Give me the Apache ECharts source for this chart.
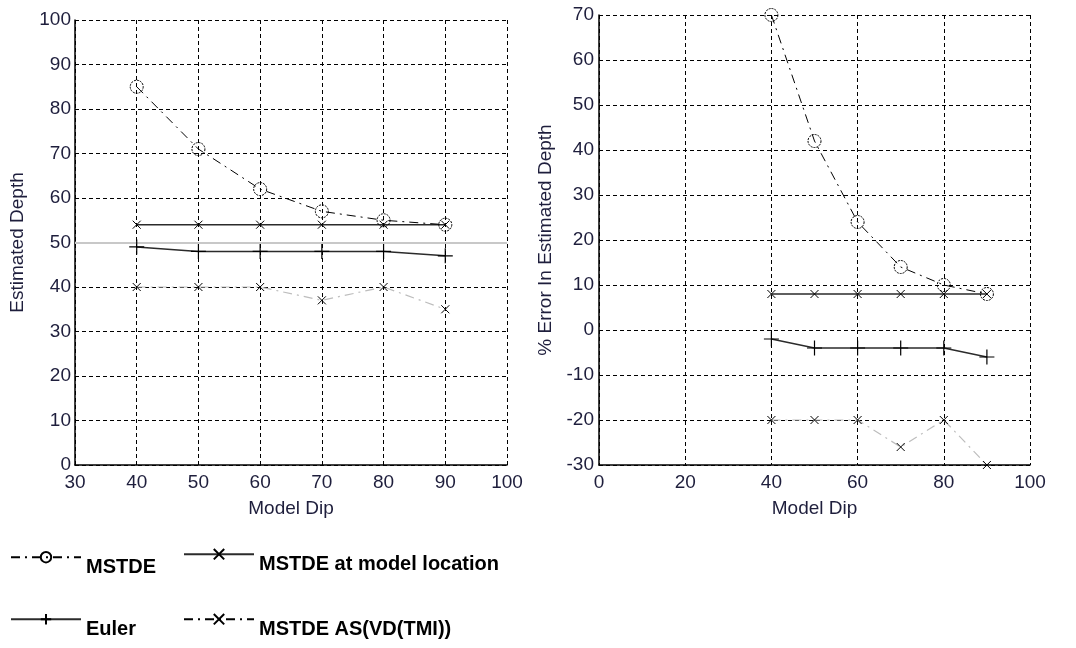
<!DOCTYPE html>
<html>
<head>
<meta charset="utf-8">
<script src="https://cdn.jsdelivr.net/npm/echarts@6/dist/echarts.min.js"></script>
<style>
  html, body { margin: 0; padding: 0; background: #fff; }
  #chart { width: 1076px; height: 648px; }
</style>
</head>
<body>
<div id="chart"></div>
<script>
// Model dip angles (degrees)
const dips = [40, 50, 60, 70, 80, 90];

// Estimated depth for each method
const depthMSTDE = [85, 71, 62, 57, 55, 54];
const depthAtLocation = [54, 54, 54, 54, 54, 54];
const depthEuler = [49, 48, 48, 48, 48, 47];
const depthAS = [40, 40, 40, 37, 40, 35];

// Percentage error in estimated depth
const errMSTDE = [70, 42, 24, 14, 10, 8];
const errAtLocation = [8, 8, 8, 8, 8, 8];
const errEuler = [-2, -4, -4, -4, -4, -6];
const errAS = [-20, -20, -20, -26, -20, -30];

// True model depth
const trueDepth = 50;

const names = ['MSTDE', 'MSTDE at model location', 'Euler', 'MSTDE AS(VD(TMI))'];

const FONT = 'Liberation Sans, Arial, sans-serif';
const TXT = '#1e1e3c';

const SYM_X = 'path://M0,0L10,10M10,0L0,10';
const SYM_PLUS = 'path://M5,0L5,10M0,5L10,5';

const pairs = (xs, ys) => xs.map((x, i) => [x, ys[i]]);

function axisCommon(extra, labelMargin) {
  return Object.assign({
    type: 'value',
    axisLine: { show: true, onZero: false, lineStyle: { color: '#000', width: 1.5 } },
    axisTick: { show: false },
    splitLine: { show: true, lineStyle: { color: '#000', width: 1, type: [4, 3] } },
    axisLabel: { color: TXT, fontFamily: FONT, fontSize: 19, margin: labelMargin },
    nameLocation: 'middle',
    nameTextStyle: { color: TXT, fontFamily: FONT, fontSize: 19 }
  }, extra);
}

function makeSeries(idx, ys, withRef) {
  const base = { xAxisIndex: idx, yAxisIndex: idx, type: 'line', z: 3 };
  return [
    Object.assign({}, base, {
      name: names[0],
      data: pairs(dips, ys[0]),
      symbol: 'circle', symbolSize: 13,
      lineStyle: { color: '#000', width: 1, type: [9, 5, 2, 5] },
      itemStyle: { color: 'transparent', borderColor: '#000', borderWidth: 1, borderType: [2, 1] },
      z: 5
    }),
    Object.assign({}, base, {
      name: names[1],
      data: pairs(dips, ys[1]),
      symbol: SYM_X, symbolSize: 8,
      lineStyle: { color: '#2b2b2b', width: 1.5, type: 'solid' },
      itemStyle: { color: 'transparent', borderColor: '#000', borderWidth: 1 }
    }),
    Object.assign({}, base, {
      name: names[2],
      data: pairs(dips, ys[2]),
      symbol: SYM_PLUS, symbolSize: 15,
      lineStyle: { color: '#2b2b2b', width: 1.5, type: 'solid' },
      itemStyle: { color: 'transparent', borderColor: '#000', borderWidth: 1.2 },
      markLine: withRef ? {
        silent: true, symbol: 'none', label: { show: false },
        lineStyle: { color: '#c8c8c8', width: 2, type: 'solid' },
        data: [{ yAxis: trueDepth }], z: 2
      } : undefined
    }),
    Object.assign({}, base, {
      name: names[3],
      data: pairs(dips, ys[3]),
      symbol: SYM_X, symbolSize: 8,
      lineStyle: { color: '#bdbdbd', width: 1.2, type: [9, 5, 2, 5] },
      itemStyle: { color: 'transparent', borderColor: '#000', borderWidth: 1 }
    })
  ];
}

function legendAt(name, left, top, lineColor) {
  const lg = {
    data: [name], left: left, top: top, padding: 0,
    itemWidth: 70, itemHeight: 13, itemGap: 0, selectedMode: false,
    formatter: '{t|{name}}',
    textStyle: {
      rich: {
        t: { fontFamily: FONT, fontWeight: 'bold', fontSize: 20, color: '#000', padding: [20, 0, 0, 0] }
      }
    }
  };
  if (lineColor) lg.lineStyle = { color: lineColor };
  return lg;
}

const chart = echarts.init(document.getElementById('chart'), null, { renderer: 'canvas' });

chart.setOption({
  animation: false,
  backgroundColor: '#fff',
  grid: [
    { left: 75, top: 20, width: 432, height: 445 },
    { left: 599, top: 15, width: 431, height: 450 }
  ],
  xAxis: [
    axisCommon({ gridIndex: 0, min: 30, max: 100, interval: 10, name: 'Model Dip', nameGap: 34 }, 8),
    axisCommon({ gridIndex: 1, min: 0, max: 100, interval: 20, name: 'Model Dip', nameGap: 34 }, 8)
  ],
  yAxis: [
    axisCommon({ gridIndex: 0, min: 0, max: 100, interval: 10, name: 'Estimated Depth', nameGap: 48 }, 4),
    axisCommon({ gridIndex: 1, min: -30, max: 70, interval: 10, name: '% Error In Estimated Depth', nameGap: 44 }, 5)
  ],
  legend: [
    legendAt(names[0], 10, 551),
    legendAt(names[1], 183, 548),
    legendAt(names[2], 10, 613),
    legendAt(names[3], 183, 613, '#000')
  ],
  series: [].concat(
    makeSeries(0, [depthMSTDE, depthAtLocation, depthEuler, depthAS], true),
    makeSeries(1, [errMSTDE, errAtLocation, errEuler, errAS], false)
  )
});
</script>
</body>
</html>
